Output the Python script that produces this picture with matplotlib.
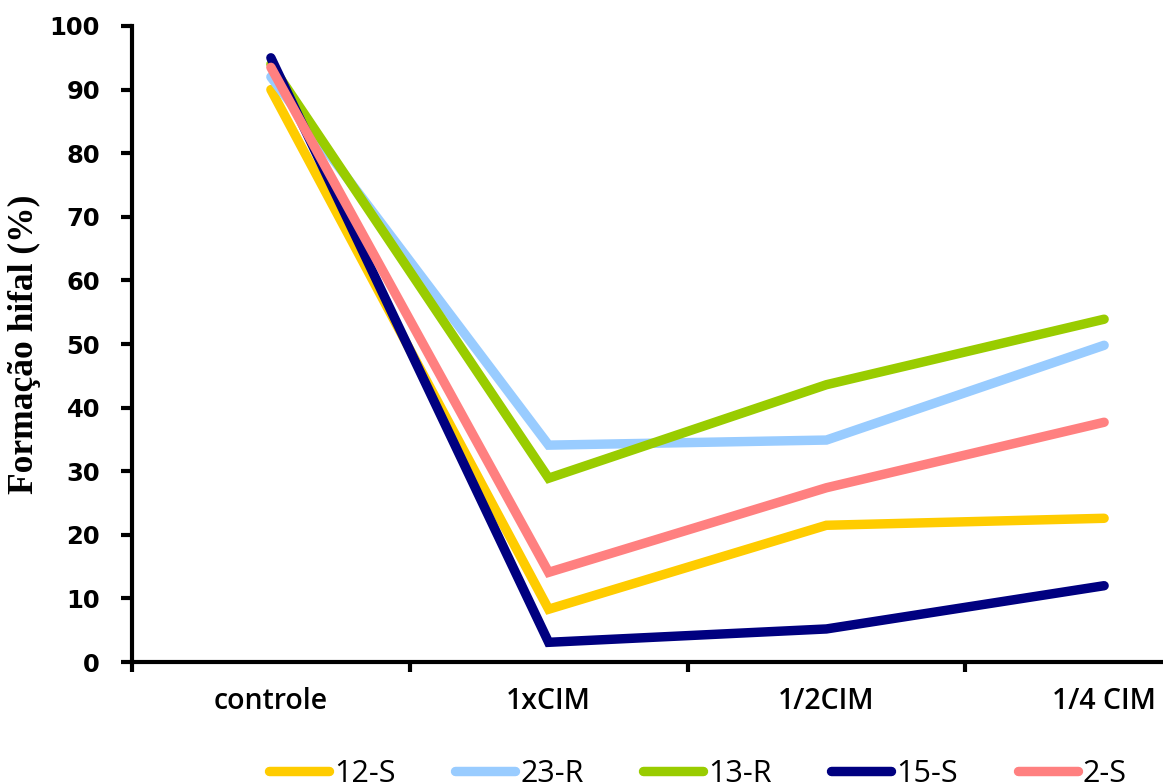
import numpy as np
import matplotlib
matplotlib.use("Agg")
import matplotlib.pyplot as plt

# =========================
# Data
# =========================
categories = ["controle", "1xCIM", "1/2CIM", "1/4 CIM"]
series_names = ["12-S", "23-R", "13-R", "15-S", "2-S"]
s12 = [90.0, 8.3, 21.5, 22.6]
s23 = [92.0, 34.1, 34.9, 49.8]
s13 = [94.0, 28.9, 43.6, 53.9]
s15 = [95.0, 3.1, 5.2, 12.0]
s2 = [93.5, 14.1, 27.4, 37.7]
series_values = [s12, s23, s13, s15, s2]
colors = ["#FFCC00", "#99CCFF", "#99CC00", "#000080", "#FF8080"]

# =========================
# Plot
# =========================
fig = plt.figure(figsize=(11.63, 7.83), dpi=100)
ax = fig.add_axes([0.1135, 0.1545, 0.9553, 0.8123])

x = np.arange(len(categories))
for name, vals, c in zip(series_names, series_values, colors):
    ax.plot(x, vals, color=c, linewidth=6.8, solid_capstyle='round',
            solid_joinstyle='miter', label=name)

ax.set_xlim(-0.5, len(categories) - 0.5)
ax.set_ylim(0, 100)
ax.set_yticks(np.arange(0, 101, 10))

# category boundaries as major ticks, labels on minor ticks
ax.set_xticks(np.arange(-0.5, len(categories), 1.0))
ax.set_xticklabels([])
ax.set_xticks(x, minor=True)
ax.set_xticklabels(categories, minor=True, fontsize=20.5, family="Open Sans",
                   fontweight='semibold')
ax.tick_params(axis='x', which='major', length=7, width=3, direction='out')
ax.tick_params(axis='x', which='minor', length=0, pad=18)
ax.tick_params(axis='y', length=8, width=3, direction='out', pad=15, labelsize=17.5)
for lab in ax.get_yticklabels():
    lab.set_fontweight('bold')

for side in ['top', 'right']:
    ax.spines[side].set_visible(False)
for side in ['left', 'bottom']:
    ax.spines[side].set_linewidth(3)
ax.spines['left'].set_capstyle('projecting')

ax.set_ylabel("Formação hifal (%)", family="Liberation Serif", fontweight='bold',
              fontsize=25.5, labelpad=6)

fig.legend(loc='center', bbox_to_anchor=(0.6, 0.012), ncol=5, frameon=False,
           prop={'family': 'Open Sans', 'size': 22},
           handlelength=1.96, handletextpad=0.16, columnspacing=1.96)

fig.savefig("out.png", dpi=100)
